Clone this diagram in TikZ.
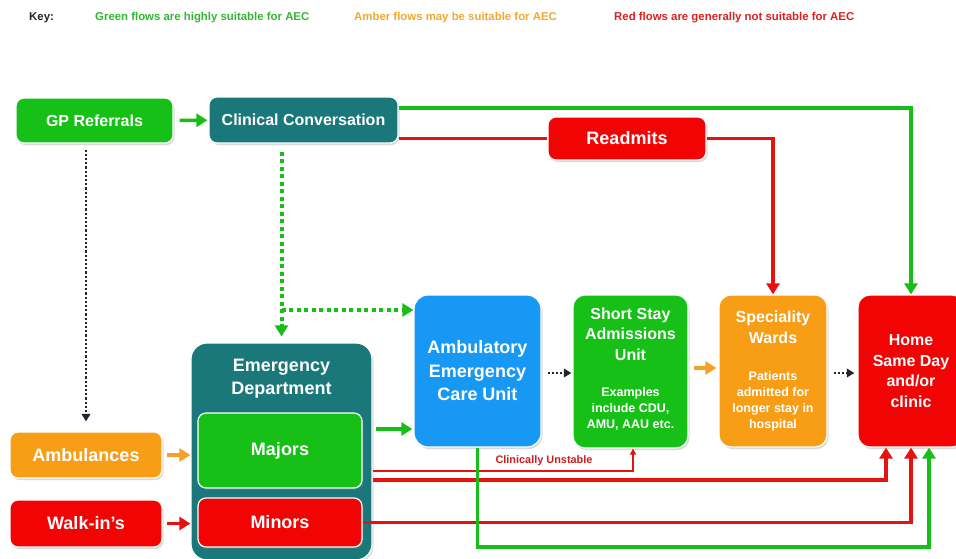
\documentclass[tikz,border=0pt]{standalone}
\usepackage{fontspec}
\setmainfont{Liberation Sans}
\usepackage{tikz}
\usetikzlibrary{arrows.meta}
\usetikzlibrary{calc}
\usetikzlibrary{shadows}

\definecolor{boxgreen}{RGB}{22,192,22}
\definecolor{boxteal}{RGB}{26,120,122}
\definecolor{boxred}{RGB}{243,4,4}
\definecolor{boxorange}{RGB}{247,158,22}
\definecolor{boxblue}{RGB}{24,152,245}
\definecolor{flowgreen}{RGB}{24,190,24}
\definecolor{flowred}{RGB}{230,18,18}
\definecolor{floworange}{RGB}{247,160,40}
\definecolor{dotgray}{RGB}{35,35,50}
\definecolor{keygreen}{RGB}{50,182,50}
\definecolor{keyamber}{RGB}{240,168,50}
\definecolor{keyred}{RGB}{218,32,32}
\definecolor{unstred}{RGB}{200,30,30}

\newcommand{\subtxt}{\fontsize{12.5}{16}\selectfont}

\begin{document}
\begin{tikzpicture}[x=1pt, y=-1pt,
	box/.style={draw=white, line width=1.2pt, rounded corners=8pt, text=white, align=center, inner sep=2pt,
		drop shadow={shadow xshift=1.5pt, shadow yshift=-2pt, opacity=0.3}},
	bigtxt/.style={font=\fontsize{18}{23.5}\selectfont\bfseries},
	midtxt/.style={font=\fontsize{16}{20.7}\selectfont\bfseries},
	keytxt/.style={font=\fontsize{11.4}{13}\selectfont\bfseries, anchor=west, inner sep=0pt},
	gflow/.style={draw=flowgreen, line width=3.5pt},
	rflow/.style={draw=flowred, line width=3.5pt},
	oflow/.style={draw=floworange, line width=3.5pt},
	gdots/.style={draw=flowgreen, line width=4pt, dash pattern=on 4pt off 3.5pt},
	kdots/.style={draw=dotgray, line width=2.5pt, dash pattern=on 2.2pt off 2pt, -{Triangle[width=8.5pt,length=7.5pt]}},
	>={Triangle[width=13pt,length=11pt]}
	]
	\useasboundingbox (0,0) rectangle (956,558);
	
	\def\ytop{108} % green line to home
	\def\yfork{310} % green dotted branch
	\def\yunst{471} % clinically unstable
	\def\ymaj{480} % majors to home
	\def\ybot{547} % aec to home
	
	% key
	\node[keytxt, text=black!85] (key) at (29,18) {Key:};
	\node[keytxt, text=keygreen] (keyg) at (95,18) {Green flows are highly suitable for AEC};
	\node[keytxt, text=keyamber] (keya) at (354,18) {Amber flows may be suitable for AEC};
	\node[keytxt, text=keyred] (keyr) at (614,18) {Red flows are generally not suitable for AEC};
	
	% top row
	\node[box, midtxt, fill=boxgreen, minimum width=157pt, minimum height=45pt] (gp) at (94.5,120.5) {GP Referrals};
	\node[box, midtxt, fill=boxteal, minimum width=189pt, minimum height=46pt] (cc) at (303.5,120) {Clinical Conversation};
	\node[box, bigtxt, fill=boxred, minimum width=158pt, minimum height=43pt] (readm) at (627,138.5) {Readmits};
	
	% arrivals
	\node[box, bigtxt, fill=boxorange, minimum width=152pt, minimum height=46pt] (amb) at (86,455) {Ambulances};
	\node[box, bigtxt, fill=boxred, minimum width=152pt, minimum height=47pt] (walk) at (86,523.5) {Walk-in’s};
	
	% emergency department
	\node[box, fill=boxteal, rounded corners=16pt, minimum width=181pt, minimum height=217pt] (ed) at (281.5,451.5) {};
	\node[bigtxt, text=white, align=center] (edname) at (281.5,378.5) {Emergency\\Department};
	\node[box, bigtxt, fill=boxgreen, minimum width=164pt, minimum height=75pt] (maj) at (280,450.5) {Majors};
	\node[box, bigtxt, fill=boxred, minimum width=164pt, minimum height=49pt] (mino) at (280,522.5) {Minors};
	
	% units
	\node[box, bigtxt, fill=boxblue, rounded corners=14pt, minimum width=127pt, minimum height=152pt] (aec) at (477.5,371) {Ambulatory\\Emergency\\Care Unit};
	\node[box, midtxt, fill=boxgreen, rounded corners=12pt, minimum width=115pt, minimum height=153pt] (ssau) at (630.5,371.5) {Short Stay\\Admissions\\Unit\\[15pt]\subtxt Examples\\[-4.5pt]\subtxt include CDU,\\[-4.5pt]\subtxt AMU, AAU etc.\\[-14pt]};
	\node[box, midtxt, fill=boxorange, rounded corners=12pt, minimum width=108pt, minimum height=152pt] (spec) at (773,371) {Speciality\\Wards\\[16pt]\subtxt Patients\\[-4.7pt]\subtxt admitted for\\[-4.7pt]\subtxt longer stay in\\[-4.7pt]\subtxt hospital};
	\node[box, midtxt, fill=boxred, rounded corners=12pt, minimum width=106pt, minimum height=152pt] (home) at (911,371) {Home\\Same Day\\and/or\\clinic};
	
	% entry points on home and ssau
	\coordinate (ssin) at ([xshift=2.5pt]ssau.south);
	\coordinate (hin1) at ([xshift=-25pt]home.south);
	\coordinate (hin3) at ([xshift=18pt]home.south);
	\coordinate (fork) at (ed.north |- 0,\yfork);
	
	% top flows
	\draw[gflow, ->, shorten <=6pt, shorten >=1pt] (gp) -- (cc);
	\draw[gflow, ->] (cc.east |- 0,\ytop) -- (home.north |- 0,\ytop) -- (home.north);
	\draw[rflow] (cc.east |- readm.west) -- (readm.west);
	\draw[rflow, ->] (readm.east) -- (readm.east -| spec.north) -- (spec.north);
	
	% dotted flows down
	\draw[kdots, shorten <=6pt, shorten >=10pt] (amb.north |- gp.south) -- (amb.north);
	\draw[gdots, ->, shorten <=8pt, shorten >=6pt] (ed.north |- cc.south) -- (ed.north);
	\draw[gdots, ->] (fork) -- (fork -| aec.west);
	
	% into the department
	\draw[oflow, ->, shorten <=4pt] (amb.east) -- (amb.east -| ed.west);
	\draw[rflow, ->, shorten <=4pt] (walk.east) -- (walk.east -| ed.west);
	\draw[gflow, ->, shorten <=3pt, shorten >=1pt] (ed.east |- 0,429) -- (aec.west |- 0,429);
	
	% out of the department
	\draw[draw=flowred, line width=2pt, -{Triangle[width=6pt,length=6pt]}] (ed.east |- 0,\yunst) -- (ssin |- 0,\yunst) -- (ssin);
	\node[font=\fontsize{10.9}{12}\selectfont\bfseries, text=unstred] (unstlbl) at (544,461) {Clinically Unstable};
	\draw[rflow, ->] (ed.east |- 0,\ymaj) -- (hin1 |- 0,\ymaj) -- (hin1);
	\draw[rflow, ->] (mino.east) -- (mino.east -| home.south) -- (home.south);
	\draw[gflow, ->] (aec.south) -- (aec.south |- 0,\ybot) -- (hin3 |- 0,\ybot) -- (hin3);
	
	% between the units
	\draw[kdots, shorten <=6pt, shorten >=1pt] (aec.east |- 0,373) -- (ssau.west |- 0,373);
	\draw[oflow, ->, shorten <=5pt, shorten >=2pt] (ssau.east |- 0,368) -- (spec.west |- 0,368);
	\draw[kdots, shorten <=6pt, shorten >=3pt] (spec.east |- 0,373) -- (home.west |- 0,373);
\end{tikzpicture}
\end{document}
